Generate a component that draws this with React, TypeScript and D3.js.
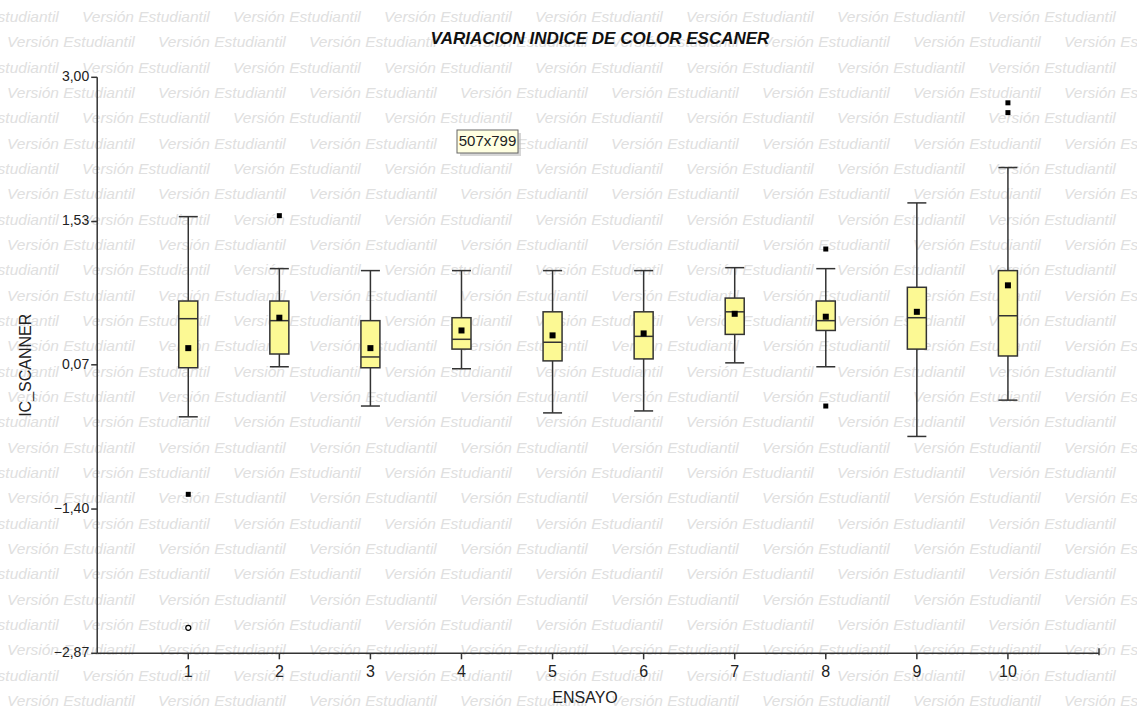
import * as d3 from "d3";

// datos (IC_SCANNER por ensayo)
const ensayos = ["1", "2", "3", "4", "5", "6", "7", "8", "9", "10"];
const whiskLo = [-0.46, 0.05, -0.35, 0.03, -0.42, -0.4, 0.09, 0.05, -0.66, -0.29];
const q1 = [0.04, 0.18, 0.04, 0.23, 0.11, 0.13, 0.38, 0.42, 0.23, 0.16];
const medians = [0.54, 0.52, 0.15, 0.33, 0.3, 0.36, 0.61, 0.52, 0.55, 0.57];
const q3 = [0.72, 0.72, 0.52, 0.55, 0.61, 0.61, 0.75, 0.72, 0.86, 1.03];
const whiskHi = [1.58, 1.05, 1.03, 1.03, 1.03, 1.03, 1.06, 1.05, 1.72, 2.08];
const means = [0.24, 0.55, 0.24, 0.42, 0.37, 0.39, 0.59, 0.56, 0.61, 0.88];
// outliers: [ensayo, valor, extremo?]
const outliers: [number, number, boolean][] = [
  [1, -1.25, false],
  [1, -2.61, true],
  [2, 1.59, false],
  [8, 1.25, false],
  [8, -0.35, false],
  [10, 2.74, false],
  [10, 2.64, false],
];
const yTicks = [3.0, 1.53, 0.07, -1.4, -2.87];

const W = 1137;
const H = 713;
const FONT = "Liberation Sans, Arial, sans-serif";

export default function App() {
  const x = d3.scaleLinear().domain([0, 11]).range([97.2, 1099]);
  const y = d3.scaleLinear().domain([-2.87, 3.0]).range([653.3, 77.3]);
  const boxW = 19;
  const fmt = (v: number) => d3.format(".2f")(v).replace(".", ",");

  // marca de agua "Versión Estudiantil"
  const wm: { x: number; y: number }[] = [];
  for (let r = 0; r < 28; r++) {
    const off = r % 2 === 0 ? 82 : 7;
    for (let cx = off - 151; cx < W; cx += 151) {
      wm.push({ x: cx, y: 18 + r * 25.33 });
    }
  }

  return (
    <svg
      width={W}
      height={H}
      style={{ position: "absolute", left: 0, top: 0, background: "#fff" }}
      fontFamily={FONT}
    >
      <rect width={W} height={H} fill="#fff" />
      <g fill="#e0e0e0" fontSize={15.5} fontStyle="italic">
        {wm.map((d, i) => (
          <text key={i} x={d.x} y={d.y} dominantBaseline="middle">
            Versión Estudiantil
          </text>
        ))}
      </g>

      <text
        x={600}
        y={44}
        textAnchor="middle"
        fontSize={17}
        fontWeight="bold"
        fontStyle="italic"
        fill="#111"
      >
        VARIACION INDICE DE COLOR ESCANER
      </text>

      {/* eje Y */}
      <line x1={x(0)} x2={x(0)} y1={y(3)} y2={y(-2.87)} stroke="#333" strokeWidth={1.5} />
      {yTicks.map((t) => (
        <g key={t}>
          <line x1={x(0) - 6} x2={x(0)} y1={y(t)} y2={y(t)} stroke="#333" strokeWidth={1.5} />
          <text
            x={x(0) - 8}
            y={y(t)}
            textAnchor="end"
            dominantBaseline="middle"
            fontSize={14}
            fill="#222"
          >
            {fmt(t)}
          </text>
        </g>
      ))}
      <text
        transform={`translate(27, ${(y(3) + y(-2.87)) / 2}) rotate(-90)`}
        textAnchor="middle"
        dominantBaseline="middle"
        fontSize={16}
        fill="#222"
      >
        IC_SCANNER
      </text>

      {/* eje X */}
      <line x1={x(0)} x2={x(11)} y1={y(-2.87)} y2={y(-2.87)} stroke="#333" strokeWidth={1.5} />
      <line x1={x(11)} x2={x(11)} y1={y(-2.87) - 5} y2={y(-2.87) + 2} stroke="#333" strokeWidth={1.5} />
      {ensayos.map((e, i) => (
        <g key={e}>
          <line
            x1={x(i + 1)}
            x2={x(i + 1)}
            y1={y(-2.87)}
            y2={y(-2.87) + 6}
            stroke="#333"
            strokeWidth={1.5}
          />
          <text x={x(i + 1)} y={677} textAnchor="middle" fontSize={16} fill="#222">
            {e}
          </text>
        </g>
      ))}
      <text x={585} y={703} textAnchor="middle" fontSize={16} fill="#222">
        ENSAYO
      </text>

      {/* cajas */}
      {ensayos.map((e, i) => {
        const cx = x(i + 1);
        return (
          <g key={e} stroke="#333" strokeWidth={1.5}>
            <line x1={cx} x2={cx} y1={y(whiskHi[i])} y2={y(q3[i])} />
            <line x1={cx} x2={cx} y1={y(q1[i])} y2={y(whiskLo[i])} />
            <line x1={cx - boxW / 2} x2={cx + boxW / 2} y1={y(whiskHi[i])} y2={y(whiskHi[i])} />
            <line x1={cx - boxW / 2} x2={cx + boxW / 2} y1={y(whiskLo[i])} y2={y(whiskLo[i])} />
            <rect
              x={cx - boxW / 2}
              y={y(q3[i])}
              width={boxW}
              height={y(q1[i]) - y(q3[i])}
              fill="#fcf994"
            />
            <line x1={cx - boxW / 2} x2={cx + boxW / 2} y1={y(medians[i])} y2={y(medians[i])} />
            <rect x={cx - 3} y={y(means[i]) - 3} width={6} height={6} fill="#000" stroke="none" />
          </g>
        );
      })}
      {outliers.map(([k, v, ext], i) =>
        ext ? (
          <circle key={i} cx={x(k)} cy={y(v)} r={2.5} fill="#fff" stroke="#000" strokeWidth={1.2} />
        ) : (
          <rect key={i} x={x(k) - 2.5} y={y(v) - 2.5} width={5} height={5} fill="#000" />
        )
      )}

      {/* tooltip de la captura */}
      <rect x={460} y={133} width={61} height={23} fill="#bbb" opacity={0.6} />
      <rect x={457} y={130} width={61} height={23} fill="#ffffe1" stroke="#666" strokeWidth={1} />
      <text x={487.5} y={142} textAnchor="middle" dominantBaseline="middle" fontSize={15} fill="#222">
        507x799
      </text>
    </svg>
  );
}
